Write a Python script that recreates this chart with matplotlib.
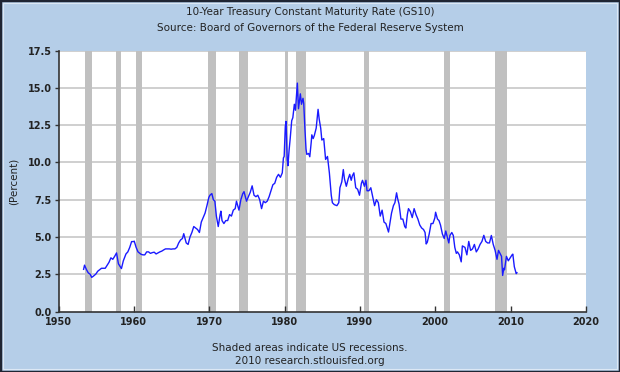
import matplotlib
matplotlib.use("Agg")
import matplotlib.pyplot as plt
from matplotlib.patches import Rectangle

title_lines = ["10-Year Treasury Constant Maturity Rate (GS10)",
               "Source: Board of Governors of the Federal Reserve System"]
footer_lines = ["Shaded areas indicate US recessions.",
                "2010 research.stlouisfed.org"]
y_label = "(Percent)"

recession_starts = [1953.5, 1957.6, 1960.3, 1969.9, 1973.9, 1980.0, 1981.5, 1990.5, 2001.2, 2007.9]
recession_ends   = [1954.4, 1958.3, 1961.1, 1970.9, 1975.2, 1980.5, 1982.9, 1991.2, 2001.9, 2009.5]

dates = [
    1953.33, 1953.45, 1953.70, 1953.95, 1954.20, 1954.40, 1954.60, 1954.95,
    1955.20, 1955.45, 1955.70, 1955.95, 1956.20, 1956.45, 1956.70, 1956.95,
    1957.20, 1957.45, 1957.70, 1957.95, 1958.20, 1958.35, 1958.60, 1958.95,
    1959.20, 1959.45, 1959.70, 1959.95, 1960.05, 1960.30, 1960.55, 1960.80, 1960.95,
    1961.20, 1961.45, 1961.70, 1961.95, 1962.20, 1962.45, 1962.70, 1962.95,
    1963.20, 1963.45, 1963.70, 1963.95, 1964.20, 1964.45, 1964.70, 1964.95,
    1965.20, 1965.45, 1965.70, 1965.95, 1966.20, 1966.45, 1966.62, 1966.95,
    1967.20, 1967.45, 1967.70, 1967.95, 1968.20, 1968.45, 1968.70, 1968.95,
    1969.20, 1969.45, 1969.70, 1969.95, 1970.10, 1970.35, 1970.55, 1970.75, 1970.95,
    1971.20, 1971.45, 1971.55, 1971.70, 1971.95, 1972.20, 1972.45, 1972.70, 1972.95,
    1973.20, 1973.45, 1973.62, 1973.95, 1974.20, 1974.45, 1974.62, 1974.95,
    1975.20, 1975.45, 1975.70, 1975.95, 1976.20, 1976.45, 1976.70, 1976.95,
    1977.20, 1977.45, 1977.70, 1977.95, 1978.20, 1978.45, 1978.70, 1978.95,
    1979.20, 1979.45, 1979.70, 1979.85, 1979.95, 1980.10, 1980.20, 1980.35, 1980.45,
    1980.60, 1980.75, 1980.95, 1981.10, 1981.30, 1981.45, 1981.60, 1981.70, 1981.85,
    1981.95, 1982.10, 1982.25, 1982.45, 1982.55, 1982.70, 1982.85, 1982.95,
    1983.20, 1983.35, 1983.55, 1983.62, 1983.80, 1983.95, 1984.20, 1984.45, 1984.60,
    1984.80, 1984.95, 1985.20, 1985.45, 1985.70, 1985.95, 1986.20, 1986.35, 1986.60,
    1986.95, 1987.20, 1987.35, 1987.60, 1987.80, 1987.95, 1988.20, 1988.45, 1988.65,
    1988.85, 1989.00, 1989.20, 1989.45, 1989.70, 1989.95, 1990.20, 1990.35, 1990.60,
    1990.80, 1990.95, 1991.20, 1991.45, 1991.70, 1991.95, 1992.20, 1992.45, 1992.70,
    1992.95, 1993.20, 1993.45, 1993.80, 1993.95, 1994.20, 1994.45, 1994.65, 1994.87,
    1995.00, 1995.20, 1995.45, 1995.70, 1995.95, 1996.10, 1996.30, 1996.45, 1996.70,
    1996.95, 1997.20, 1997.45, 1997.70, 1997.95, 1998.20, 1998.45, 1998.65, 1998.80,
    1998.95, 1999.20, 1999.45, 1999.70, 1999.95, 2000.05, 2000.30, 2000.50, 2000.70,
    2000.95, 2001.20, 2001.40, 2001.60, 2001.80, 2001.95, 2002.20, 2002.40, 2002.60,
    2002.80, 2002.95, 2003.20, 2003.45, 2003.60, 2003.95, 2004.20, 2004.45, 2004.70,
    2004.95, 2005.20, 2005.45, 2005.70, 2005.95, 2006.20, 2006.45, 2006.70, 2006.95,
    2007.20, 2007.45, 2007.70, 2007.95, 2008.20, 2008.40, 2008.60, 2008.80, 2008.95,
    2009.10, 2009.20, 2009.45, 2009.70, 2009.95, 2010.20, 2010.30, 2010.50, 2010.75, 2010.85,
]
rates = [
    2.83, 3.11, 2.82, 2.59, 2.50, 2.29, 2.36, 2.51,
    2.70, 2.80, 2.90, 2.90, 2.90, 3.10, 3.30, 3.60,
    3.50, 3.70, 3.93, 3.20, 3.00, 2.88, 3.40, 3.86,
    4.00, 4.30, 4.69, 4.69, 4.72, 4.30, 4.00, 3.90, 3.84,
    3.80, 3.80, 4.00, 4.00, 3.90, 3.95, 3.98, 3.86,
    3.93, 4.00, 4.05, 4.13, 4.20, 4.20, 4.20, 4.18,
    4.20, 4.20, 4.30, 4.60, 4.80, 4.90, 5.22, 4.60,
    4.50, 5.00, 5.30, 5.70, 5.60, 5.50, 5.30, 6.00,
    6.30, 6.60, 7.10, 7.65, 7.80, 7.91, 7.50, 7.40, 6.40,
    5.70, 6.50, 6.73, 6.10, 5.90, 6.10, 6.10, 6.50, 6.40,
    6.80, 6.90, 7.40, 6.80, 7.50, 7.90, 8.04, 7.40,
    7.70, 8.00, 8.43, 7.80, 7.70, 7.80, 7.50, 6.90,
    7.40, 7.30, 7.40, 7.70, 8.10, 8.50, 8.60, 9.00,
    9.20, 9.00, 9.30, 10.30, 10.40, 12.40, 12.75, 10.20, 9.78,
    10.80, 11.60, 12.80, 13.00, 13.90, 13.50, 14.60, 15.32, 13.60,
    14.00, 14.60, 13.90, 14.30, 13.95, 12.30, 10.90, 10.54,
    10.60, 10.38, 11.40, 11.85, 11.60, 11.80, 12.30, 13.56, 12.90,
    12.30, 11.50, 11.60, 10.20, 10.40, 9.30, 7.80, 7.30, 7.17,
    7.10, 7.30, 8.30, 8.70, 9.52, 8.90, 8.40, 8.90, 9.20,
    8.80, 9.10, 9.30, 8.30, 8.20, 7.80, 8.60, 8.80, 8.40,
    8.80, 8.10, 8.10, 8.30, 7.70, 7.10, 7.50, 7.30, 6.40,
    6.80, 6.00, 5.90, 5.33, 5.80, 6.60, 7.10, 7.30, 7.96,
    7.60, 7.20, 6.20, 6.20, 5.70, 5.60, 6.50, 6.90, 6.70,
    6.30, 6.90, 6.50, 6.20, 5.80, 5.60, 5.50, 5.30, 4.53,
    4.65, 5.20, 5.90, 5.90, 6.28, 6.66, 6.20, 6.10, 5.80,
    5.20, 4.90, 5.40, 5.00, 4.60, 5.10, 5.30, 5.10, 4.30,
    3.90, 4.00, 3.80, 3.33, 4.40, 4.30, 3.80, 4.70, 4.10,
    4.20, 4.50, 4.00, 4.20, 4.50, 4.70, 5.11, 4.70, 4.60,
    4.60, 5.10, 4.50, 4.10, 3.50, 4.10, 3.90, 3.70, 2.42,
    2.90, 2.80, 3.70, 3.40, 3.60, 3.80, 3.85, 3.00, 2.54, 2.60,
]

x_ticks = [1950, 1960, 1970, 1980, 1990, 2000, 2010, 2020]
y_ticks = [0.0, 2.5, 5.0, 7.5, 10.0, 12.5, 15.0, 17.5]

bg = "#b5cee8"
fig = plt.figure(figsize=(6.2, 3.72), dpi=100, facecolor=bg)
ax = fig.add_axes([0.0944, 0.1626, 0.8506, 0.7014])
ax.set_facecolor("white")

for s, e in zip(recession_starts, recession_ends):
    ax.axvspan(s, e, color="#c0c0c0", lw=0, zorder=1)
for yv in y_ticks[1:]:
    ax.axhline(yv, color="#cccccc", lw=1.3, zorder=0.5)

ax.plot(dates, rates, color="#1a1aff", lw=1.0, zorder=3)

ax.set_xlim(1950, 2020)
ax.set_ylim(0, 17.5)
ax.set_xticks(x_ticks)
ax.set_yticks(y_ticks)
ax.set_yticklabels([f"{v:.1f}" for v in y_ticks])
ax.tick_params(axis="x", direction="in", length=4, width=1, colors="#333333",
               labelsize=7, pad=4, labelcolor="#222222")
ax.tick_params(axis="y", direction="out", length=3, width=1, colors="#333333",
               labelsize=7, pad=2, labelcolor="#222222")
for lab in ax.get_xticklabels() + ax.get_yticklabels():
    lab.set_fontweight("semibold")
for side in ["top", "right"]:
    ax.spines[side].set_visible(False)
for side in ["left", "bottom"]:
    ax.spines[side].set_color("#333333")
    ax.spines[side].set_linewidth(1.2)

ax.set_ylabel(y_label, fontsize=7.5, color="#222222", labelpad=8)
ax.yaxis.set_label_coords(-0.075, 0.5)

fig.text(0.5, 1 - 12 / 372, title_lines[0], ha="center", va="center", fontsize=7.5, color="#222222")
fig.text(0.5, 1 - 28 / 372, title_lines[1], ha="center", va="center", fontsize=7.5, color="#222222")
fig.text(0.5, 1 - 348 / 372, footer_lines[0], ha="center", va="center", fontsize=7.5, color="#222222")
fig.text(0.5, 1 - 361 / 372, footer_lines[1], ha="center", va="center", fontsize=7.5, color="#222222")

fig.patches.append(Rectangle((0, 0), 1, 1, transform=fig.transFigure, fill=False,
                             edgecolor="#1f2533", lw=2.5, zorder=10))
fig.patches.append(Rectangle((3 / 620, 3 / 372), 1 - 6 / 620, 1 - 6 / 372, transform=fig.transFigure,
                             fill=False, edgecolor="#dce8f5", lw=0.8, zorder=10))

fig.savefig("out.png", dpi=100, facecolor=bg)
